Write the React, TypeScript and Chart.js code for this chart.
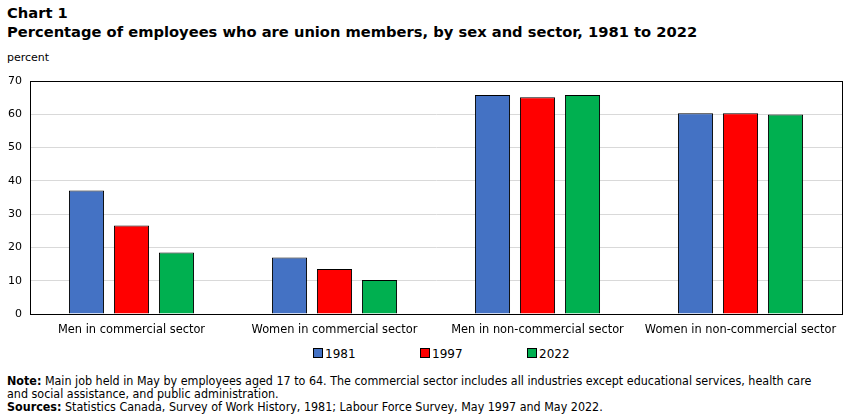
import React, { useEffect, useRef } from "react";
import { Chart, registerables } from "chart.js";

Chart.register(...registerables);

const categories = [
  "Men in commercial sector",
  "Women in commercial sector",
  "Men in non-commercial sector",
  "Women in non-commercial sector",
];
const years = ["1981", "1997", "2022"];
const values1981 = [37.1, 17.0, 65.8, 60.3];
const values1997 = [26.6, 13.5, 65.1, 60.3];
const values2022 = [18.5, 10.2, 65.8, 59.9];
const colors = ["#4472C4", "#FF0000", "#00B050"];
const yTicks = [0, 10, 20, 30, 40, 50, 60, 70];

const FONT = "Verdana, 'DejaVu Sans', sans-serif";
const NOTE_FONT = "'DejaVu Sans Condensed', 'Liberation Sans Narrow', sans-serif";

const boxPlugin = {
  id: "boxPlugin",
  afterDraw(chart: any) {
    const { ctx, chartArea } = chart;
    ctx.save();
    ctx.strokeStyle = "#000";
    ctx.lineWidth = 1;
    ctx.strokeRect(
      Math.round(chartArea.left) + 0.5,
      Math.round(chartArea.top) + 0.5,
      Math.round(chartArea.right - chartArea.left),
      Math.round(chartArea.bottom - chartArea.top)
    );
    ctx.restore();
  },
};

export default function App() {
  const ref = useRef<HTMLCanvasElement>(null);
  useEffect(() => {
    if (!ref.current) return;
    const series = [values1981, values1997, values2022];
    const chart = new Chart(ref.current, {
      type: "bar",
      data: {
        labels: categories,
        datasets: years.map((y, i) => ({
          label: y,
          data: series[i],
          backgroundColor: colors[i],
          borderColor: "#000",
          borderWidth: 1,
          categoryPercentage: 0.665,
          barPercentage: 0.78,
        })),
      },
      options: {
        animation: false,
        responsive: false,
        maintainAspectRatio: false,
        layout: { padding: { top: 11, right: 9, left: 0, bottom: 0 } },
        plugins: {
          legend: { display: false },
          tooltip: { enabled: false },
          title: { display: false },
        },
        scales: {
          x: {
            grid: { display: false },
            border: { display: true, color: "#000" },
            ticks: {
              color: "#000",
              font: { family: FONT, size: 11.4 },
              padding: 1,
              maxRotation: 0,
              autoSkip: false,
            },
            afterFit(scale: any) {
              scale.height = 26;
              scale.paddingLeft = 0;
              scale.paddingRight = 0;
            },
          },
          y: {
            min: 0,
            max: 70,
            afterBuildTicks(scale: any) {
              scale.ticks = yTicks.map((v) => ({ value: v }));
            },
            grid: { color: "#D9D9D9", drawTicks: false },
            border: { display: true, color: "#000" },
            ticks: {
              color: "#000",
              font: { family: FONT, size: 11 },
              padding: 8,
            },
            afterFit(scale: any) {
              scale.width = 30;
              scale.paddingTop = 0;
              scale.paddingBottom = 0;
            },
          },
        },
      },
      plugins: [boxPlugin],
    });
    return () => chart.destroy();
  }, []);

  return (
    <div
      style={{
        position: "fixed",
        left: 0,
        top: 0,
        width: 851,
        height: 417,
        background: "#fff",
        overflow: "hidden",
        fontFamily: FONT,
        color: "#000",
      }}
    >
      <div
        style={{
          position: "absolute",
          left: 7,
          top: 3,
          fontWeight: "bold",
          fontSize: 14.7,
          lineHeight: "19px",
          whiteSpace: "nowrap",
        }}
      >
        Chart 1
        <br />
        Percentage of employees who are union members, by sex and sector, 1981 to 2022
      </div>
      <div style={{ position: "absolute", left: 7, top: 51, fontSize: 11 }}>percent</div>
      <canvas
        ref={ref}
        width={851}
        height={270}
        style={{ position: "absolute", left: 0, top: 70, width: 851, height: 270 }}
      />
      <div
        style={{
          position: "absolute",
          top: 347,
          left: 0,
          width: 851,
          fontSize: 12,
          lineHeight: "14px",
        }}
      >
        {years.map((y, i) => (
          <span
            key={y}
            style={{ position: "absolute", left: 313 + i * 107, top: 0, whiteSpace: "nowrap" }}
          >
            <span
              style={{
                display: "inline-block",
                width: 8,
                height: 8,
                background: colors[i],
                border: "1px solid #000",
                marginRight: 2,
              }}
            />
            {y}
          </span>
        ))}
      </div>
      <div
        style={{
          position: "absolute",
          left: 7,
          top: 374,
          fontFamily: NOTE_FONT,
          fontSize: 12.4,
          lineHeight: "13px",
          whiteSpace: "nowrap",
        }}
      >
        <b>Note:</b> Main job held in May by employees aged 17 to 64. The commercial sector includes all
        industries except educational services, health care
        <br />
        and social assistance, and public administration.
        <br />
        <b>Sources:</b> Statistics Canada, Survey of Work History, 1981; Labour Force Survey, May 1997 and
        May 2022.
      </div>
    </div>
  );
}
